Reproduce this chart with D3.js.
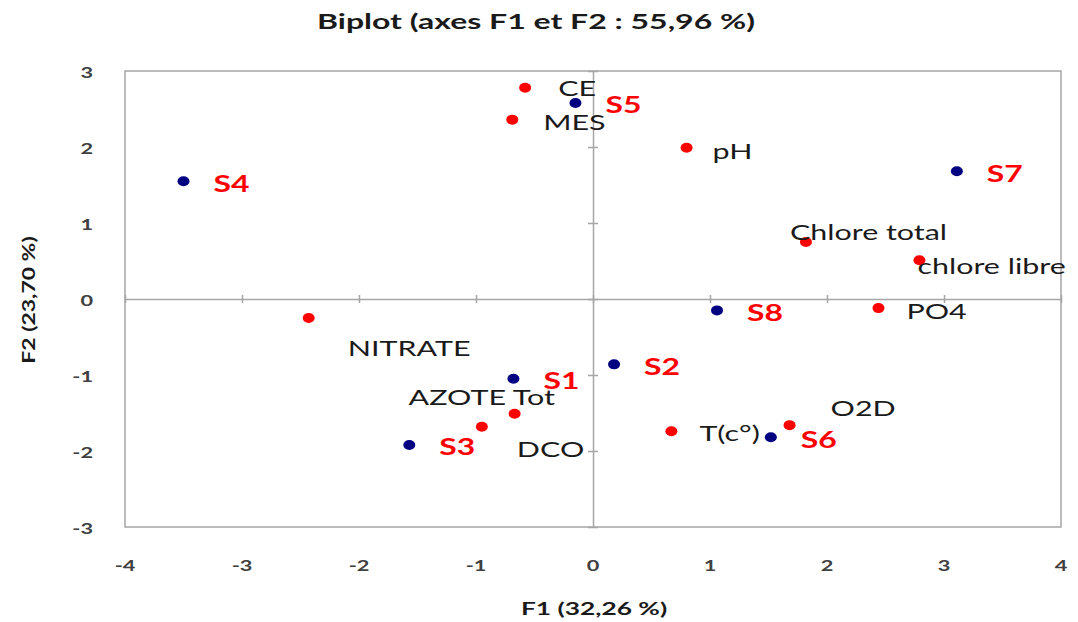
<!DOCTYPE html>
<html>
<head>
<meta charset="utf-8">
<script src="https://cdn.jsdelivr.net/npm/d3@7"></script>
<style>
  body { margin: 0; background: #fff; }
  svg text { font-family: Lato, "Open Sans", sans-serif; }
</style>
</head>
<body>
<svg id="chart" width="1078" height="622"></svg>
<script>
// observations (blue) and variables (red) on F1 / F2
const obsNames = ['S1', 'S2', 'S3', 'S4', 'S5', 'S6', 'S7', 'S8'];
const obsF1 = [-0.68, 0.18, -1.57, -3.50, -0.15, 1.52, 3.11, 1.06];
const obsF2 = [-1.05, -0.86, -1.92, 1.55, 2.58, -1.82, 1.68, -0.15];

const varNames = ['CE', 'MES', 'pH', 'Chlore total', 'chlore libre', 'PO4', 'NITRATE', 'AZOTE Tot', 'DCO', 'T(c°)', 'O2D'];
const varF1 = [-0.58, -0.69, 0.80, 1.82, 2.79, 2.44, -2.43, -0.67, -0.95, 0.67, 1.68];
const varF2 = [2.78, 2.36, 1.99, 0.75, 0.51, -0.12, -0.25, -1.51, -1.68, -1.74, -1.66];

const xTicks = [-4, -3, -2, -1, 0, 1, 2, 3, 4];
const yTicks = [-3, -2, -1, 0, 1, 2, 3];

const title = 'Biplot (axes F1 et F2 : 55,96 %)';
const xTitle = 'F1 (32,26 %)';
const yTitle = 'F2 (23,70 %)';

// where each label sits relative to its point (px)
const labelNudge = {
  'CE': [33, 0], 'MES': [31, 2], 'pH': [26, 3], 'Chlore total': [-16, -10],
  'chlore libre': [-2, 6], 'PO4': [28, 3], 'NITRATE': [39, 30],
  'AZOTE Tot': [-106, -17], 'DCO': [35, 22], 'T(c°)': [28, 2], 'O2D': [41, -17]
};
const obsNudge = [30, 2];

const stretch = 1.45; // the original text is wide

const svg = d3.select('#chart');
const x = d3.scaleLinear().domain([-4, 4]).range([125, 1061]);
const y = d3.scaleLinear().domain([-3, 3]).range([527, 71]);

function label(g, px, py, txt, anchor, sx) {
  return g.append('text')
    .attr('transform', `translate(${px},${py}) scale(${sx || stretch},1)`)
    .attr('text-anchor', anchor || 'start')
    .attr('dominant-baseline', 'central')
    .text(txt);
}

// frame
svg.append('rect')
  .attr('x', x(-4)).attr('y', y(3))
  .attr('width', x(4) - x(-4)).attr('height', y(-3) - y(3))
  .attr('fill', 'none').attr('stroke', '#a6a6a6').attr('stroke-width', 1.5);

// axes through origin with crossing ticks
const xAxis = svg.append('g').attr('transform', `translate(0,${y(0)})`)
  .call(d3.axisBottom(x).tickValues(xTicks).tickSize(0).tickFormat(''));
xAxis.selectAll('.tick line').attr('y1', -4).attr('y2', 4);
const yAxis = svg.append('g').attr('transform', `translate(${x(0)},0)`)
  .call(d3.axisLeft(y).tickValues(yTicks).tickSize(0).tickFormat(''));
yAxis.selectAll('.tick line').attr('x1', -5).attr('x2', 5);
svg.selectAll('.domain, .tick line').attr('stroke', '#a6a6a6').attr('stroke-width', 1.5);

// tick labels at the frame
const tl = svg.append('g').attr('fill', '#404040').attr('font-size', 15).attr('font-weight', 'bold');
xTicks.forEach(t => label(tl, x(t), 565, t, 'middle'));
yTicks.forEach(t => label(tl, 93, y(t) + 1, t, 'end'));

// titles
label(svg, 536, 22, title, 'middle', 1.6).attr('font-size', 20).attr('font-weight', 'bold').attr('fill', '#1a1a1a');
label(svg, 594, 608, xTitle, 'middle', 1.55).attr('font-size', 17).attr('font-weight', 'bold').attr('fill', '#1a1a1a');
svg.append('text')
  .attr('transform', `translate(28,300) rotate(-90) scale(1.35,1)`)
  .attr('text-anchor', 'middle').attr('dominant-baseline', 'central')
  .attr('font-size', 17).attr('font-weight', 'bold').attr('fill', '#1a1a1a')
  .text(yTitle);

// variables
const vars = varNames.map((n, i) => ({ n, f1: varF1[i], f2: varF2[i] }));
svg.append('g').selectAll('ellipse').data(vars).join('ellipse')
  .attr('cx', d => x(d.f1)).attr('cy', d => y(d.f2))
  .attr('rx', 6).attr('ry', 5).attr('fill', '#ff0000');
const vl = svg.append('g').attr('font-size', 21).attr('fill', '#1a1a1a');
vars.forEach(d => {
  const [dx, dy] = labelNudge[d.n];
  label(vl, x(d.f1) + dx, y(d.f2) + dy, d.n);
});

// observations
const obs = obsNames.map((n, i) => ({ n, f1: obsF1[i], f2: obsF2[i] }));
svg.append('g').selectAll('ellipse').data(obs).join('ellipse')
  .attr('cx', d => x(d.f1)).attr('cy', d => y(d.f2))
  .attr('rx', 6).attr('ry', 5).attr('fill', '#000080');
const ol = svg.append('g').attr('font-size', 22).attr('font-weight', 'bold').attr('fill', '#ff0000');
obs.forEach(d => label(ol, x(d.f1) + obsNudge[0], y(d.f2) + obsNudge[1], d.n));
</script>
</body>
</html>
